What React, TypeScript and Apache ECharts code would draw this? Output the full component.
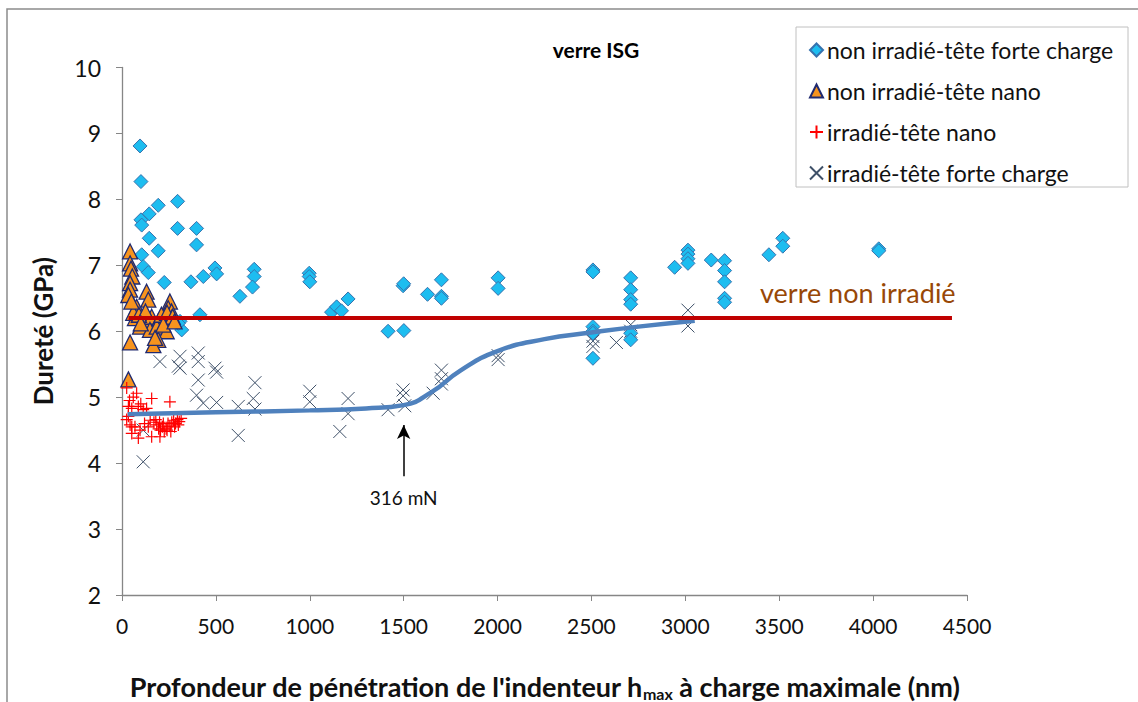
import React, { useEffect, useRef } from "react";
import * as echarts from "echarts";

const xTicks = { min: 0, max: 4500, interval: 500 };
const yTicks = { min: 2, max: 10, interval: 1 };

const nonIrrFort: number[][] = [
  [96, 8.81], [101, 8.27], [193, 7.91], [296, 7.97], [145, 7.78], [101, 7.69], [105, 7.61], [296, 7.56],
  [397, 7.56], [145, 7.41], [397, 7.31], [193, 7.22], [105, 7.16], [113, 6.98], [140, 6.89], [225, 6.74],
  [367, 6.75], [433, 6.83], [495, 6.96], [504, 6.87], [415, 6.25], [309, 6.15], [318, 6.02], [300, 6.12],
  [628, 6.53], [704, 6.94], [704, 6.83], [695, 6.67], [997, 6.88], [997, 6.83], [1000, 6.75], [1116, 6.29],
  [1143, 6.37], [1169, 6.31], [1204, 6.49], [1417, 6.0], [1501, 6.01], [1497, 6.69], [1500, 6.72], [1627, 6.56],
  [1701, 6.78], [1701, 6.53], [1701, 6.5], [2003, 6.81], [2003, 6.65], [2508, 6.93], [2508, 6.9], [2508, 6.07],
  [2508, 6.0], [2508, 5.97], [2508, 5.59], [2709, 6.81], [2709, 6.63], [2709, 6.48], [2709, 6.41], [2709, 5.97],
  [2709, 5.87], [2943, 6.97], [3014, 7.23], [3014, 7.17], [3014, 7.1], [3014, 7.03], [3138, 7.08], [3209, 7.07],
  [3209, 6.92], [3209, 6.75], [3209, 6.5], [3209, 6.44], [3445, 7.16], [3519, 7.41], [3519, 7.29], [4030, 7.25],
  [4030, 7.22],
];

const nonIrrNano: number[][] = [
  [43, 7.21], [43, 7.03], [48, 6.95], [55, 6.83], [43, 6.73], [43, 6.63], [34, 6.55], [131, 6.6],
  [140, 6.48], [78, 6.37], [255, 6.45], [246, 6.35], [264, 6.3], [69, 6.2], [113, 6.17], [158, 6.22],
  [193, 6.15], [229, 6.2], [264, 6.2], [96, 6.07], [149, 6.02], [185, 6.07], [238, 6.0], [193, 5.87],
  [167, 5.79], [176, 5.9], [43, 5.83], [34, 5.27], [60, 6.28], [90, 6.25], [125, 6.3], [210, 6.25],
  [240, 6.28], [270, 6.22], [50, 6.45], [100, 6.12], [220, 6.1], [280, 6.15],
];

const irrNano: number[][] = [
  [25, 5.14], [78, 5.06], [158, 4.98], [255, 4.93], [34, 4.86], [87, 4.86], [131, 4.83], [52, 4.83],
  [113, 4.81], [25, 4.66], [34, 4.71], [43, 4.58], [52, 4.55], [69, 4.55], [96, 4.5], [52, 4.45],
  [87, 4.38], [158, 4.4], [202, 4.4], [60, 5.0], [40, 4.95], [100, 4.9],
  [170, 4.62], [185, 4.58], [195, 4.52], [205, 4.5], [215, 4.55], [225, 4.48], [235, 4.52], [245, 4.6],
  [255, 4.56], [265, 4.62], [275, 4.65], [285, 4.6], [295, 4.66], [305, 4.63], [315, 4.68], [180, 4.66],
  [200, 4.62], [220, 4.6], [240, 4.5], [260, 4.48], [280, 4.55], [300, 4.58], [150, 4.65], [140, 4.55],
  [120, 4.6],
];

const irrFort: number[][] = [
  [202, 5.54], [309, 5.62], [309, 5.44], [300, 5.47], [406, 5.67], [406, 5.54], [495, 5.44], [504, 5.38],
  [406, 5.26], [397, 5.03], [433, 4.91], [504, 4.92], [619, 4.86], [619, 4.42], [708, 5.22], [699, 4.98],
  [708, 4.82], [1000, 5.09], [1000, 4.93], [1204, 4.98], [1204, 4.75], [1160, 4.48], [1417, 4.81], [1497, 5.11],
  [1497, 5.02], [1506, 4.87], [1657, 5.06], [1701, 5.41], [1701, 5.28], [1701, 5.2], [2003, 5.63], [2003, 5.57],
  [2508, 5.92], [2508, 5.85], [2508, 5.77], [2633, 5.83], [2709, 6.1], [2709, 6.0], [3014, 6.32], [3014, 6.08],
  [113, 4.02], [113, 4.5],
];

const trendIrr: number[][] = [
  [30, 4.74], [500, 4.77], [1000, 4.8], [1300, 4.83], [1500, 4.88], [1650, 5.08], [1800, 5.4],
  [2000, 5.7], [2250, 5.88], [2500, 5.98], [2750, 6.07], [3050, 6.16],
];

const refNonIrr: number[][] = [[35, 6.2], [4420, 6.2]];

const arrowLine: number[][] = [[1500, 3.8], [1500, 4.58]];

const seriesNames = [
  "non irradié-tête forte charge",
  "non irradié-tête nano",
  "irradié-tête nano",
  "irradié-tête forte charge",
];

const FONT = "Lato, 'Open Sans', sans-serif";
const PLUS = "path://M0,5L10,5M5,0L5,10";
const CROSS = "path://M0,0L10,10M10,0L0,10";

export default function App() {
  const ref = useRef<HTMLDivElement>(null);
  useEffect(() => {
    if (!ref.current) return;
    const chart = echarts.init(ref.current, undefined, { renderer: "svg" });
    chart.setOption({
      animation: false,
      backgroundColor: "#ffffff",
      textStyle: { fontFamily: FONT },
      title: {
        text: "verre ISG",
        left: 591,
        top: 34,
        textAlign: "center",
        textStyle: { fontFamily: FONT, fontSize: 21, fontWeight: "bold", color: "#000" },
      },
      legend: {
        orient: "vertical",
        left: 804,
        top: 33,
        itemGap: 17,
        itemWidth: 13,
        itemHeight: 13,
        data: seriesNames,
        textStyle: { fontFamily: FONT, fontSize: 23, color: "#111", lineHeight: 24, padding: [0, 0, 0, -1] },
      },
      grid: {
        left: 122,
        right: 171,
        top: 67.5,
        bottom: 107,
        containLabel: false,
        outerBoundsMode: "none",
      },
      xAxis: {
        type: "value",
        min: xTicks.min,
        max: xTicks.max,
        interval: xTicks.interval,
        splitLine: { show: false },
        axisLine: { lineStyle: { color: "#868686", width: 1.3 } },
        axisTick: { show: true, length: 6, lineStyle: { color: "#868686" } },
        axisLabel: {
          fontFamily: FONT,
          fontSize: 21,
          color: "#111",
          margin: 20,
          formatter: (v: number) => String(v),
        },
        name: "{a|Profondeur de pénétration de l'indenteur h}{s|max}{a| à charge maximale (nm)}",
        nameLocation: "middle",
        nameGap: 76,
        nameTextStyle: {
          rich: {
            a: { fontFamily: FONT, fontSize: 27, fontWeight: "bold", color: "#111" },
            s: { fontFamily: FONT, fontSize: 16, fontWeight: "bold", color: "#111", padding: [14, 0, 0, 0] },
          },
        },
      },
      yAxis: {
        type: "value",
        min: yTicks.min,
        max: yTicks.max,
        interval: yTicks.interval,
        splitLine: { show: false },
        axisLine: { show: true, lineStyle: { color: "#868686", width: 1.3 } },
        axisTick: { show: true, length: 6, lineStyle: { color: "#868686" } },
        axisLabel: { fontFamily: FONT, fontSize: 23, color: "#111", margin: 21 },
        name: "Dureté (GPa)",
        nameLocation: "middle",
        nameGap: 66,
        nameTextStyle: { fontFamily: FONT, fontSize: 26, fontWeight: "bold", color: "#111" },
      },
      series: [
        {
          name: seriesNames[3],
          type: "scatter",
          symbol: CROSS,
          symbolSize: 13,
          data: irrFort,
          itemStyle: { color: "transparent", borderColor: "#3E5068", borderWidth: 1, opacity: 1 },
          z: 2,
        },
        {
          name: seriesNames[0],
          type: "scatter",
          symbol: "diamond",
          symbolSize: 14,
          data: nonIrrFort,
          itemStyle: { color: "#1DBDF0", borderColor: "#3672AE", borderWidth: 1, opacity: 1 },
          z: 3,
        },
        {
          name: seriesNames[1],
          type: "scatter",
          symbol: "triangle",
          symbolSize: 15,
          data: nonIrrNano,
          itemStyle: { color: "#F7941E", borderColor: "#202A70", borderWidth: 1.3, opacity: 1 },
          z: 4,
        },
        {
          name: seriesNames[2],
          type: "scatter",
          symbol: PLUS,
          symbolSize: 12,
          data: irrNano,
          itemStyle: { color: "transparent", borderColor: "#FF0000", borderWidth: 1.2, opacity: 1 },
          z: 5,
        },
        {
          name: "trend",
          type: "line",
          data: trendIrr,
          smooth: 0.5,
          showSymbol: false,
          symbol: "none",
          lineStyle: { color: "#4F81BD", width: 4.5 },
          z: 6,
          markLine: {
            silent: true,
            symbol: ["none", "arrow"],
            symbolSize: [10, 14],
            lineStyle: { color: "#000", width: 1.5, type: "solid" },
            label: {
              show: true,
              position: "start",
              formatter: "316 mN",
              fontFamily: FONT,
              fontSize: 19,
              color: "#111",
              distance: 12,
            },
            data: [[{ coord: arrowLine[0] }, { coord: arrowLine[1] }]],
          },
        },
        {
          name: "ref",
          type: "line",
          data: refNonIrr,
          showSymbol: false,
          symbol: "none",
          lineStyle: { color: "#C00000", width: 4 },
          z: 7,
        },
      ],
      graphic: [
        {
          type: "rect",
          shape: { x: 7, y: 9, width: 1145, height: 705 },
          style: { fill: "none", stroke: "#8c8c8c", lineWidth: 1.5 },
          silent: true,
        },
        {
          type: "rect",
          shape: { x: 796, y: 27, width: 332, height: 160 },
          style: { fill: "none", stroke: "#c0c0c0", lineWidth: 1 },
          silent: true,
        },
        {
          type: "text",
          x: 760,
          y: 292,
          style: {
            text: "verre non irradié",
            fontFamily: FONT,
            fontSize: 27,
            fill: "#984807",
            verticalAlign: "middle",
          },
          silent: true,
        },
      ],
    });
    return () => chart.dispose();
  }, []);
  return (
    <div
      ref={ref}
      style={{ position: "fixed", left: 0, top: 0, width: 1138, height: 702, background: "#fff" }}
    />
  );
}
